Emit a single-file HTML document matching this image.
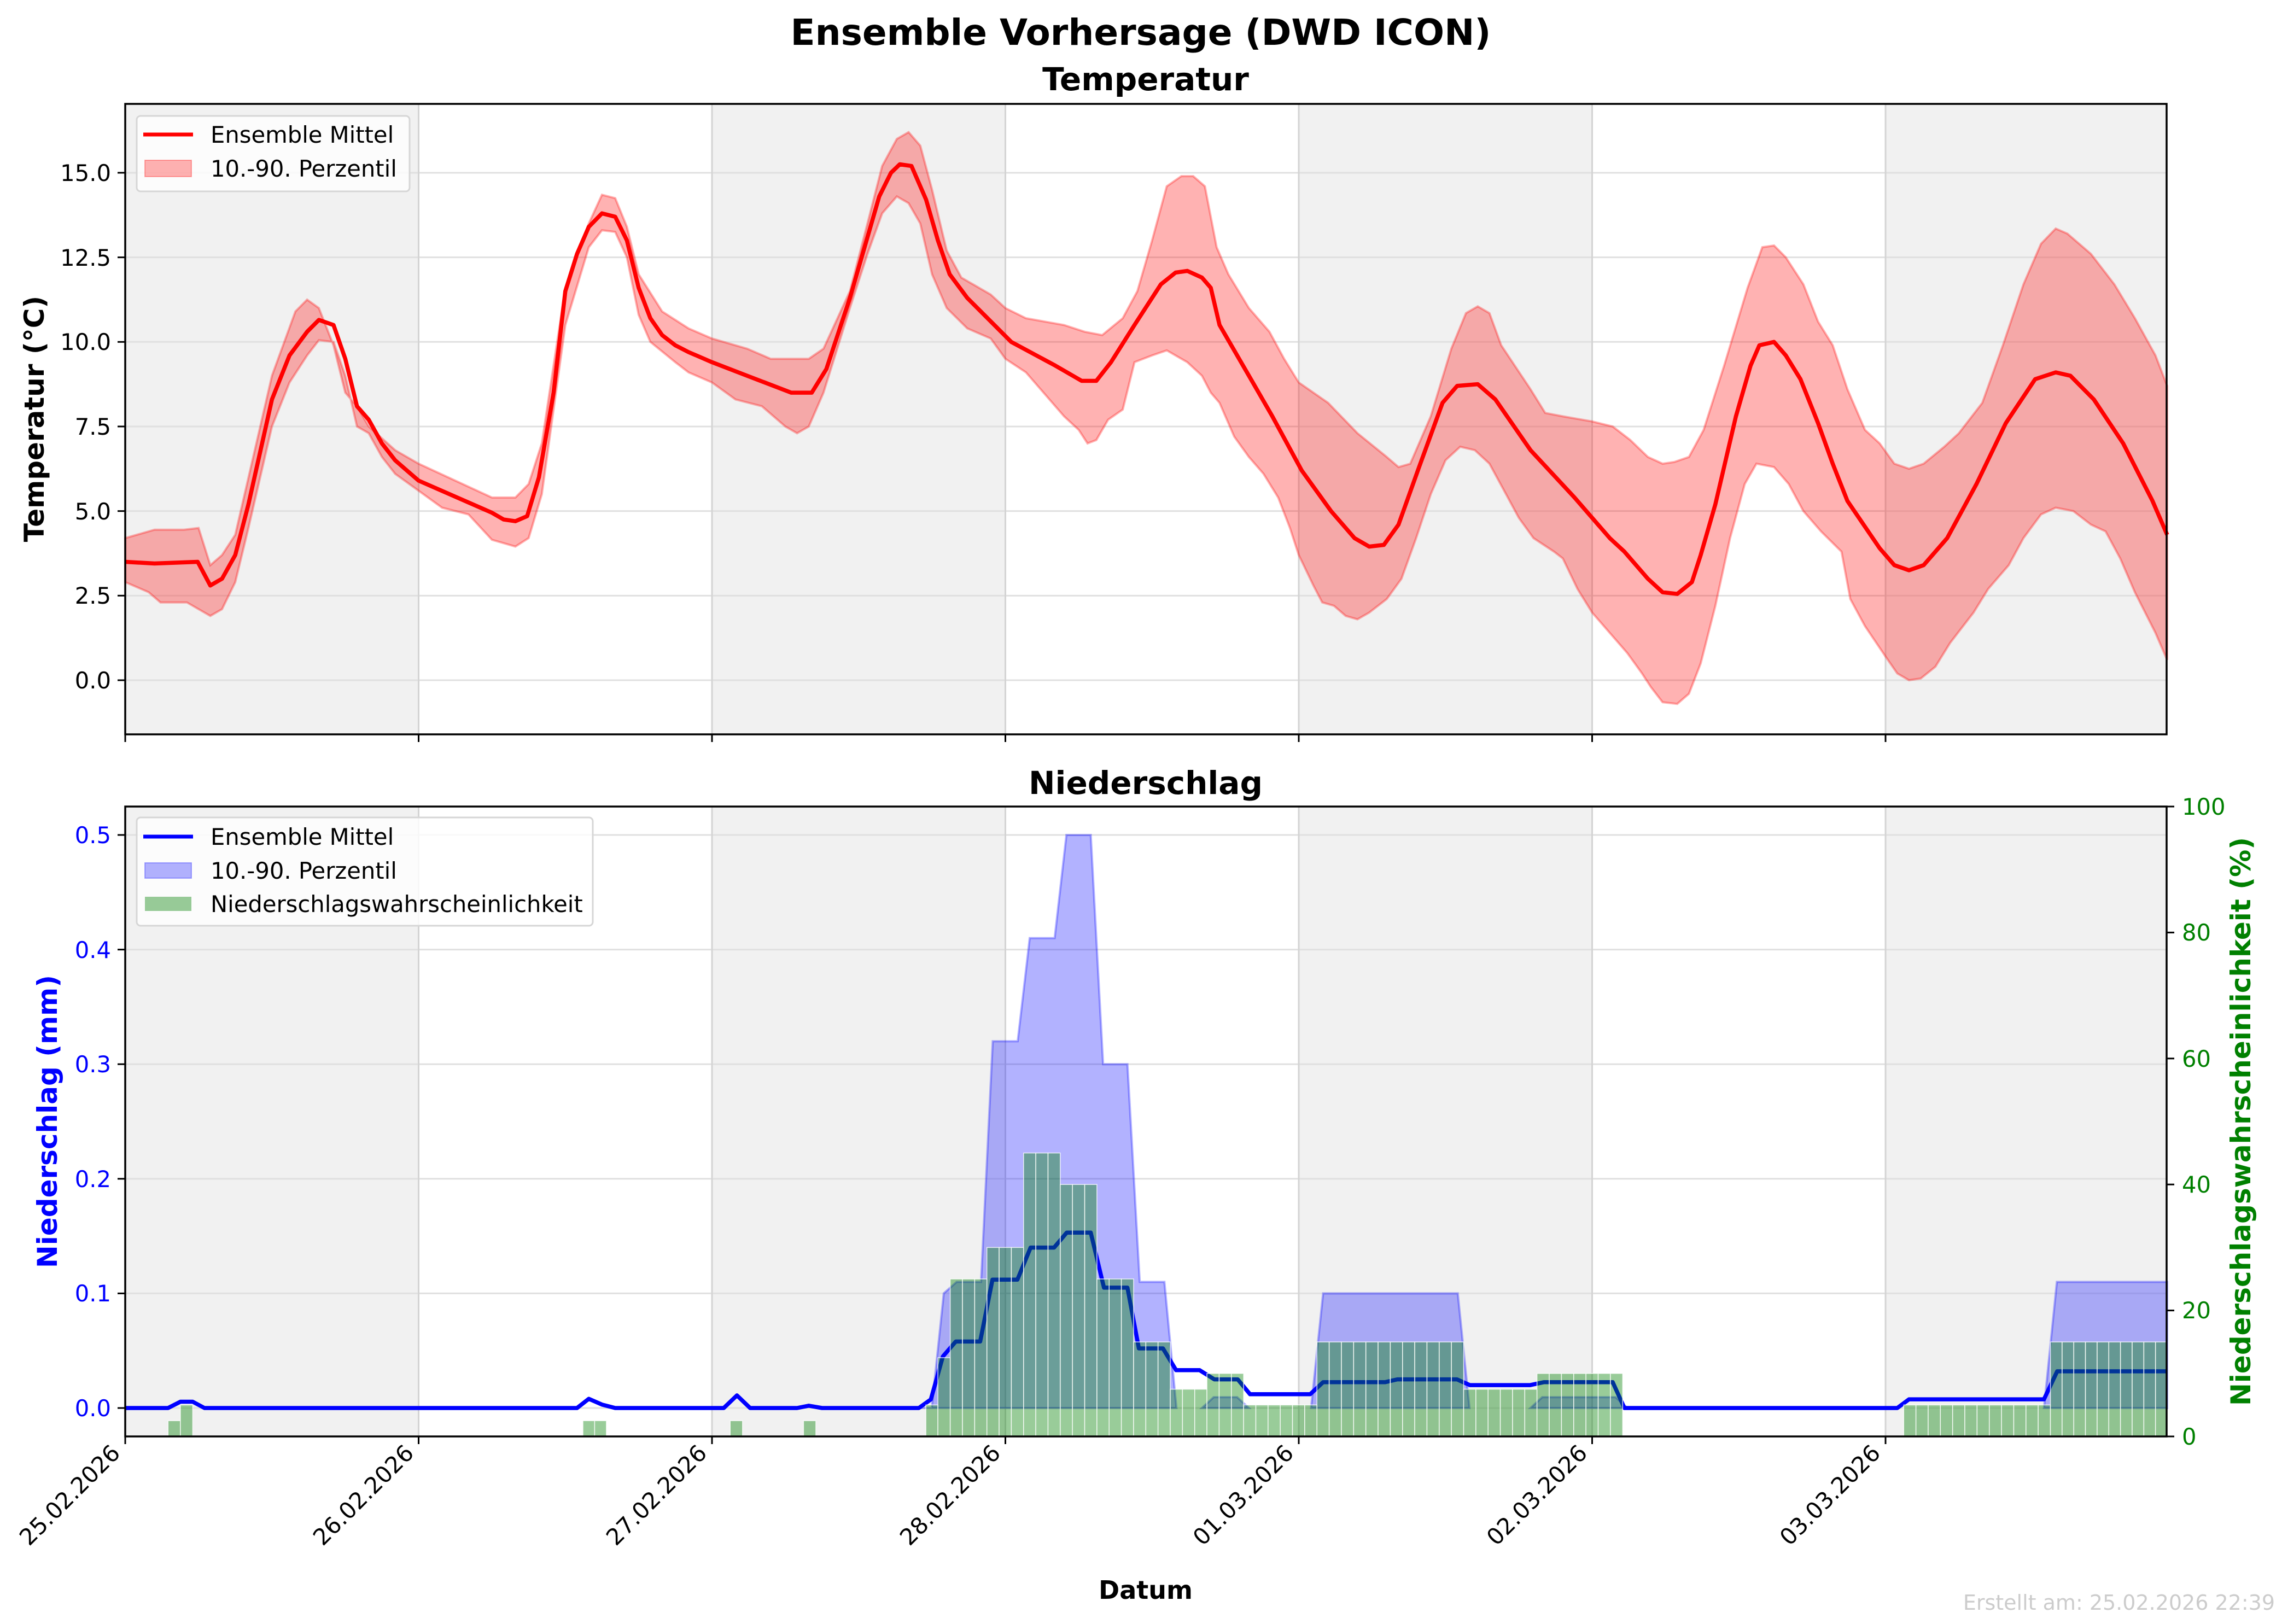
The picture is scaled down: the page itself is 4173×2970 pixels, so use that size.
<!DOCTYPE html>
<html><head><meta charset="utf-8"><style>
html,body{margin:0;padding:0;background:#fff;width:4173px;height:2970px;overflow:hidden}
svg{display:block}
text{font-family:"DejaVu Sans","Liberation Sans",sans-serif}
</style></head><body>
<svg id="s" width="4173" height="2970" viewBox="0 0 4173 2970" xmlns="http://www.w3.org/2000/svg">
<rect width="4173" height="2970" fill="#fff"/>
<g id="bg"></g>
<g id="top"></g>
<g id="bot"></g>
<rect x="229" y="190" width="3733" height="1153" fill="none" stroke="#000" stroke-width="3.5"/>
<rect x="229" y="1475" width="3733" height="1152" fill="none" stroke="#000" stroke-width="3.5"/>
<g id="ticks" stroke="#000" stroke-width="3"></g>
<text x="2086" y="82" font-size="66" font-weight="bold" text-anchor="middle">Ensemble Vorhersage (DWD ICON)</text>
<text x="2095" y="165" font-size="58" font-weight="bold" text-anchor="middle">Temperatur</text>
<text x="2095" y="1452" font-size="58" font-weight="bold" text-anchor="middle">Niederschlag</text>
<text transform="translate(80,766) rotate(-90)" font-size="50" font-weight="bold" text-anchor="middle">Temperatur (°C)</text>
<text transform="translate(104,2051) rotate(-90)" font-size="50" font-weight="bold" text-anchor="middle" fill="#0000ff">Niederschlag (mm)</text>
<text transform="translate(4115,2051) rotate(-90)" font-size="50" font-weight="bold" text-anchor="middle" fill="#008000">Niederschlagswahrscheinlichkeit (%)</text>
<g font-size="41.7" text-anchor="end">
<text x="203" y="331">15.0</text>
<text x="203" y="486">12.5</text>
<text x="203" y="640">10.0</text>
<text x="203" y="795">7.5</text>
<text x="203" y="950">5.0</text>
<text x="203" y="1104">2.5</text>
<text x="203" y="1259">0.0</text>
</g>
<g font-size="41.7" text-anchor="end" fill="#0000ff">
<text x="203" y="1542">0.5</text>
<text x="203" y="1752">0.4</text>
<text x="203" y="1961">0.3</text>
<text x="203" y="2171">0.2</text>
<text x="203" y="2380">0.1</text>
<text x="203" y="2590">0.0</text>
</g>
<g font-size="41.7" text-anchor="start" fill="#008000">
<text x="3990" y="1490">100</text>
<text x="3990" y="1720">80</text>
<text x="3990" y="1951">60</text>
<text x="3990" y="2181">40</text>
<text x="3990" y="2411">20</text>
<text x="3990" y="2642">0</text>
</g>
<g font-size="41.7" text-anchor="end">
<text transform="translate(222,2660) rotate(-45)">25.02.2026</text>
<text transform="translate(759,2660) rotate(-45)">26.02.2026</text>
<text transform="translate(1295,2660) rotate(-45)">27.02.2026</text>
<text transform="translate(1832,2660) rotate(-45)">28.02.2026</text>
<text transform="translate(2368,2660) rotate(-45)">01.03.2026</text>
<text transform="translate(2905,2660) rotate(-45)">02.03.2026</text>
<text transform="translate(3441,2660) rotate(-45)">03.03.2026</text>
</g>
<text x="2095" y="2924" font-size="46" font-weight="bold" text-anchor="middle">Datum</text>
<text x="4160" y="2944" font-size="38" text-anchor="end" fill="#cccccc">Erstellt am: 25.02.2026 22:39</text>
<rect x="250" y="212" width="499" height="138" rx="7" fill="#fff" fill-opacity="0.8" stroke="#d6d6d6" stroke-width="3"/>
<line x1="262" y1="246" x2="353" y2="246" stroke="#ff0000" stroke-width="7"/>
<rect x="265" y="293" width="85" height="30" fill="#ff0000" fill-opacity="0.3" stroke="#ff0000" stroke-opacity="0.3" stroke-width="2"/>
<text x="385" y="261" font-size="41.7">Ensemble Mittel</text>
<text x="385" y="323" font-size="41.7">10.-90. Perzentil</text>
<rect x="250" y="1495" width="834" height="198" rx="7" fill="#fff" fill-opacity="0.8" stroke="#d6d6d6" stroke-width="3"/>
<line x1="262" y1="1530" x2="353" y2="1530" stroke="#0000ff" stroke-width="7"/>
<rect x="265" y="1578" width="85" height="28" fill="#0000ff" fill-opacity="0.3" stroke="#0000ff" stroke-opacity="0.3" stroke-width="2"/>
<rect x="265" y="1640" width="85" height="26" fill="#008000" fill-opacity="0.4"/>
<text x="385" y="1545" font-size="41.7">Ensemble Mittel</text>
<text x="385" y="1607" font-size="41.7">10.-90. Perzentil</text>
<text x="385" y="1668" font-size="41.7">Niederschlagswahrscheinlichkeit</text>
</svg>
<script>
(function(){
var NS="http://www.w3.org/2000/svg";
function el(p,t,a){var e=document.createElementNS(NS,t);for(var k in a)e.setAttribute(k,a[k]);p.appendChild(e);return e;}
var X0=229,DW=536.5,XR=3962;
function X(d){return X0+DW*d;}
function TY(t){return 1244-61.87*t;}
function PY(m){return 2575-2096*m;}
function QY(p){return 2627-11.52*p;}
var bg=document.getElementById('bg'),top=document.getElementById('top'),bot=document.getElementById('bot'),tk=document.getElementById('ticks');
[[0,1],[2,3],[4,5],[6,6.96]].forEach(function(r){
 var x1=X(r[0]),x2=Math.min(X(r[1]),XR);
 el(bg,'rect',{x:x1,y:190,width:x2-x1,height:1153,fill:'#f1f1f1'});
 el(bg,'rect',{x:x1,y:1475,width:x2-x1,height:1152,fill:'#f1f1f1'});
});
[15,12.5,10,7.5,5,2.5,0].forEach(function(v){el(bg,'line',{x1:X0,x2:XR,y1:TY(v),y2:TY(v),stroke:'#e0e0e0','stroke-width':3});});
[0.5,0.4,0.3,0.2,0.1,0].forEach(function(v){el(bg,'line',{x1:X0,x2:XR,y1:PY(v),y2:PY(v),stroke:'#e0e0e0','stroke-width':3});});
for(var d=1;d<=6;d++){el(bg,'line',{x1:X(d),x2:X(d),y1:190,y2:1343,stroke:'#d4d4d4','stroke-width':3});el(bg,'line',{x1:X(d),x2:X(d),y1:1475,y2:2627,stroke:'#d4d4d4','stroke-width':3});}
for(var d=0;d<=6;d++){el(tk,'line',{x1:X(d),x2:X(d),y1:1343,y2:1357});el(tk,'line',{x1:X(d),x2:X(d),y1:2627,y2:2641});}
[15,12.5,10,7.5,5,2.5,0].forEach(function(v){el(tk,'line',{x1:215,x2:229,y1:TY(v),y2:TY(v)});});
[0.5,0.4,0.3,0.2,0.1,0].forEach(function(v){el(tk,'line',{x1:215,x2:229,y1:PY(v),y2:PY(v)});});
[0,20,40,60,80,100].forEach(function(v){el(tk,'line',{x1:3962,x2:3976,y1:QY(v),y2:QY(v)});});
function pts(a,fy){return a.map(function(p){return X(p[0]).toFixed(1)+','+fy(p[1]).toFixed(1);});}
var mean=[[0,3.5],[0.1,3.45],[0.247,3.5],[0.29,2.8],[0.33,3.0],[0.375,3.7],[0.42,5.2],[0.5,8.3],[0.56,9.6],[0.62,10.3],[0.66,10.65],[0.71,10.5],[0.75,9.5],[0.79,8.1],[0.83,7.7],[0.875,7.0],[0.92,6.5],[0.96,6.2],[1.0,5.9],[1.25,4.95],[1.29,4.75],[1.33,4.7],[1.37,4.85],[1.41,6.0],[1.46,8.5],[1.5,11.5],[1.54,12.6],[1.58,13.4],[1.625,13.8],[1.67,13.7],[1.71,13.0],[1.75,11.6],[1.79,10.7],[1.83,10.2],[1.875,9.9],[1.92,9.7],[2.0,9.4],[2.12,9.0],[2.27,8.5],[2.34,8.5],[2.39,9.2],[2.47,11.3],[2.52,12.8],[2.57,14.3],[2.61,15.0],[2.64,15.25],[2.68,15.2],[2.73,14.2],[2.77,13.0],[2.81,12.0],[2.87,11.3],[3.02,10.0],[3.17,9.3],[3.26,8.85],[3.31,8.85],[3.36,9.4],[3.44,10.5],[3.53,11.7],[3.58,12.05],[3.62,12.1],[3.67,11.9],[3.7,11.6],[3.73,10.5],[3.81,9.3],[3.91,7.8],[4.01,6.2],[4.11,5.0],[4.19,4.2],[4.24,3.95],[4.29,4.0],[4.34,4.6],[4.41,6.3],[4.49,8.2],[4.54,8.7],[4.61,8.75],[4.67,8.3],[4.79,6.8],[4.94,5.4],[5.06,4.2],[5.11,3.8],[5.19,3.0],[5.24,2.6],[5.29,2.55],[5.34,2.9],[5.37,3.7],[5.42,5.2],[5.49,7.8],[5.54,9.3],[5.57,9.9],[5.62,10.0],[5.66,9.6],[5.71,8.9],[5.77,7.6],[5.82,6.4],[5.87,5.3],[5.98,3.9],[6.03,3.4],[6.08,3.25],[6.13,3.4],[6.21,4.2],[6.31,5.8],[6.41,7.6],[6.51,8.9],[6.58,9.1],[6.63,9.0],[6.71,8.3],[6.81,7.0],[6.91,5.3],[6.96,4.3]];
var up=[[0,4.2],[0.1,4.45],[0.2,4.45],[0.25,4.5],[0.29,3.4],[0.33,3.7],[0.375,4.3],[0.5,9.0],[0.58,10.9],[0.62,11.25],[0.66,11.0],[0.71,9.9],[0.75,8.5],[0.79,8.1],[0.83,7.5],[0.92,6.8],[1.0,6.4],[1.25,5.4],[1.33,5.4],[1.375,5.8],[1.42,7.0],[1.5,11.6],[1.58,13.5],[1.625,14.35],[1.67,14.25],[1.71,13.4],[1.75,12.0],[1.83,10.9],[1.92,10.4],[2.0,10.1],[2.12,9.8],[2.2,9.5],[2.33,9.5],[2.38,9.8],[2.47,11.5],[2.53,13.5],[2.58,15.2],[2.63,16.0],[2.67,16.2],[2.71,15.8],[2.75,14.5],[2.8,12.7],[2.85,11.9],[2.95,11.4],[3.0,11.0],[3.07,10.7],[3.2,10.5],[3.27,10.3],[3.33,10.2],[3.4,10.7],[3.45,11.5],[3.5,13.0],[3.55,14.6],[3.6,14.9],[3.64,14.9],[3.68,14.6],[3.72,12.8],[3.76,12.0],[3.83,11.0],[3.9,10.3],[3.95,9.5],[4.0,8.8],[4.1,8.2],[4.2,7.3],[4.3,6.6],[4.34,6.3],[4.38,6.4],[4.45,7.8],[4.52,9.8],[4.57,10.85],[4.61,11.05],[4.65,10.85],[4.69,9.9],[4.79,8.6],[4.84,7.9],[4.9,7.8],[5.0,7.65],[5.07,7.5],[5.13,7.1],[5.19,6.6],[5.24,6.4],[5.28,6.45],[5.33,6.6],[5.38,7.4],[5.45,9.3],[5.53,11.6],[5.58,12.8],[5.62,12.85],[5.66,12.5],[5.72,11.7],[5.77,10.6],[5.82,9.9],[5.87,8.6],[5.93,7.4],[5.98,7.0],[6.03,6.4],[6.08,6.25],[6.13,6.4],[6.2,6.9],[6.25,7.3],[6.33,8.2],[6.4,9.9],[6.47,11.7],[6.53,12.9],[6.58,13.35],[6.62,13.2],[6.7,12.6],[6.78,11.7],[6.85,10.7],[6.92,9.6],[6.96,8.7]];
var lo=[[0,2.9],[0.08,2.6],[0.12,2.3],[0.21,2.3],[0.29,1.9],[0.33,2.1],[0.375,2.9],[0.42,4.5],[0.5,7.5],[0.56,8.8],[0.62,9.6],[0.66,10.05],[0.71,10.0],[0.75,9.0],[0.79,7.5],[0.83,7.3],[0.875,6.6],[0.92,6.1],[1.0,5.6],[1.08,5.1],[1.17,4.9],[1.25,4.15],[1.33,3.95],[1.375,4.2],[1.42,5.5],[1.5,10.5],[1.58,12.8],[1.625,13.3],[1.67,13.25],[1.71,12.5],[1.75,10.8],[1.79,10.0],[1.875,9.4],[1.92,9.1],[2.0,8.8],[2.08,8.3],[2.17,8.1],[2.25,7.5],[2.29,7.3],[2.33,7.5],[2.38,8.5],[2.47,11.0],[2.53,12.6],[2.58,13.8],[2.63,14.3],[2.67,14.1],[2.71,13.5],[2.75,12.0],[2.8,11.0],[2.87,10.4],[2.95,10.1],[3.0,9.5],[3.07,9.1],[3.15,8.3],[3.2,7.8],[3.25,7.4],[3.28,7.0],[3.31,7.1],[3.35,7.7],[3.4,8.0],[3.44,9.4],[3.5,9.6],[3.55,9.75],[3.62,9.4],[3.67,9.0],[3.7,8.5],[3.73,8.2],[3.78,7.2],[3.83,6.6],[3.88,6.1],[3.93,5.4],[3.97,4.5],[4.0,3.7],[4.05,2.8],[4.08,2.3],[4.12,2.2],[4.16,1.9],[4.2,1.8],[4.24,2.0],[4.3,2.4],[4.35,3.0],[4.4,4.2],[4.45,5.5],[4.5,6.5],[4.55,6.9],[4.6,6.8],[4.65,6.4],[4.7,5.6],[4.75,4.8],[4.8,4.2],[4.87,3.8],[4.9,3.6],[4.95,2.7],[5.0,2.0],[5.05,1.5],[5.12,0.8],[5.17,0.2],[5.2,-0.2],[5.24,-0.65],[5.29,-0.7],[5.33,-0.4],[5.37,0.5],[5.42,2.2],[5.47,4.2],[5.52,5.8],[5.56,6.4],[5.62,6.3],[5.67,5.8],[5.72,5.0],[5.78,4.4],[5.85,3.8],[5.88,2.4],[5.93,1.6],[6.0,0.7],[6.04,0.2],[6.08,0.0],[6.12,0.05],[6.17,0.4],[6.22,1.1],[6.3,2.0],[6.35,2.7],[6.42,3.4],[6.47,4.2],[6.53,4.9],[6.58,5.1],[6.64,5.0],[6.7,4.6],[6.75,4.4],[6.8,3.6],[6.85,2.6],[6.92,1.4],[6.96,0.6]];
var band=pts(up,TY).concat(pts(lo.slice().reverse(),TY));
el(top,'polygon',{points:band.join(' '),fill:'#ff0000','fill-opacity':0.3,stroke:'#ff0000','stroke-opacity':0.3,'stroke-width':4});
el(top,'polyline',{points:pts(mean,TY).join(' '),fill:'none',stroke:'#ff0000','stroke-width':7.5,'stroke-linejoin':'round'});
var pb=[
 [[2.705,0],[2.749,0],[2.79,0.1],[2.834,0.11],[2.917,0.11],[2.957,0.32],[3.042,0.32],[3.083,0.41],[3.168,0.41],[3.208,0.5],[3.291,0.5],[3.333,0.3],[3.416,0.3],[3.458,0.11],[3.542,0.11],[3.583,0]],
 [[3.67,0],[3.71,0.0095],[3.79,0.0095],[3.83,0]],
 [[4.042,0],[4.083,0.1],[4.542,0.1],[4.582,0]],
 [[4.79,0],[4.83,0.0095],[5.08,0.0095],[5.12,0]],
 [[6.54,0],[6.584,0.11],[6.96,0.11],[6.96,0]]
];
pb.forEach(function(a){el(bot,'polygon',{points:pts(a,PY).join(' '),fill:'#0000ff','fill-opacity':0.3,stroke:'#0000ff','stroke-opacity':0.3,'stroke-width':4});});
var pm=[[0,0],[0.146,0],[0.188,0.0055],[0.23,0.0055],[0.27,0],[1.54,0],[1.58,0.008],[1.625,0.003],[1.67,0],[2.04,0],[2.085,0.011],[2.13,0],[2.29,0],[2.33,0.002],[2.375,0],[2.705,0],[2.746,0.0075],[2.787,0.045],[2.831,0.058],[2.914,0.058],[2.956,0.112],[3.041,0.112],[3.086,0.14],[3.166,0.14],[3.209,0.153],[3.291,0.153],[3.336,0.105],[3.416,0.105],[3.455,0.052],[3.537,0.052],[3.582,0.033],[3.662,0.033],[3.712,0.025],[3.792,0.025],[3.834,0.012],[4.039,0.012],[4.083,0.0225],[4.294,0.0225],[4.336,0.025],[4.539,0.025],[4.583,0.02],[4.789,0.02],[4.835,0.0225],[5.07,0.0225],[5.11,0],[6.04,0],[6.08,0.0076],[6.54,0.0076],[6.585,0.032],[6.96,0.032]];
el(bot,'polyline',{points:pts(pm,PY).join(' '),fill:'none',stroke:'#0000ff','stroke-width':7.5,'stroke-linejoin':'round'});
var bars=[[0.146,0.188,2.5],[0.188,0.23,5],[1.56,1.6,2.5],[1.6,1.64,2.5],[2.062,2.104,2.5],[2.312,2.354,2.5],
 [2.729,2.77,5],[2.77,2.812,12.5],[2.812,2.937,25],[2.937,3.062,30],[3.062,3.187,45],[3.187,3.312,40],[3.312,3.437,25],[3.437,3.562,15],[3.562,3.687,7.5],[3.687,3.812,10],[3.812,4.062,5],[4.062,4.562,15],[4.562,4.812,7.5],[4.812,5.104,10],
 [6.062,6.562,5],[6.562,6.96,15]];
var H=1/24;
bars.forEach(function(b){
 var n=Math.max(1,Math.round((b[1]-b[0])/H));
 var w=(b[1]-b[0])/n;
 for(var i=0;i<n;i++){
  var x1=X(b[0]+i*w),x2=Math.min(X(b[0]+(i+1)*w),XR);
  el(bot,'rect',{x:x1,y:QY(b[2]),width:x2-x1,height:2627-QY(b[2]),fill:'#008000','fill-opacity':0.4,stroke:'#ffffff','stroke-opacity':0.8,'stroke-width':1.5});
 }
});
})();
</script>
</body></html>
